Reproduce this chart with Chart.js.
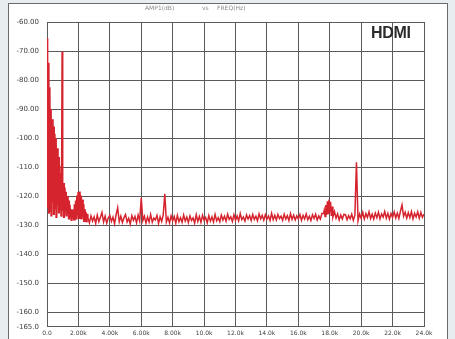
<!DOCTYPE html>
<html>
<head>
<meta charset="utf-8">
<script src="https://cdn.jsdelivr.net/npm/chart.js@4/dist/chart.umd.min.js"></script>
<style>
  html, body { margin: 0; padding: 0; background: #e8edef; }
  #wrap { position: relative; width: 455px; height: 339px; overflow: hidden; }
  #panel {
    position: absolute; left: 8px; top: 3px; width: 440px; height: 345px;
    background: #ffffff; border: 1px solid #6a6a6a; box-sizing: border-box;
  }
  #plot { position: absolute; left: 0; top: 0; }
  .cap { position: absolute; top: 4px; font: 6px "DejaVu Sans", sans-serif; color: #8a8a8a; white-space: nowrap; }
  #tag {
    position: absolute; left: 371px; top: 24px;
    font: bold 16px "Liberation Sans", Arial, sans-serif; color: #2b2b2b; letter-spacing: -0.3px;
  }
</style>
</head>
<body>
<div id="wrap">
  <div id="panel"></div>
  <canvas id="plot" width="455" height="339"></canvas>
  <span class="cap" style="left:145px">AMP1(dB)</span>
  <span class="cap" style="left:202px">vs</span>
  <span class="cap" style="left:217px">FREQ(Hz)</span>
  <div id="tag">HDMI</div>
</div>
<script>
// low band: dense FFT bins, 0 .. 2.56 kHz
const lowFreq = [
  0.00, 0.04, 0.08, 0.12, 0.16, 0.20, 0.24, 0.28, 0.32, 0.36,
  0.40, 0.44, 0.48, 0.52, 0.56, 0.60, 0.64, 0.68, 0.72, 0.76,
  0.80, 0.84, 0.88, 0.92, 0.96, 1.00, 1.04, 1.08, 1.12, 1.16,
  1.20, 1.24, 1.28, 1.32, 1.36, 1.40, 1.44, 1.48, 1.52, 1.56,
  1.60, 1.64, 1.68, 1.72, 1.76, 1.80, 1.84, 1.88, 1.92, 1.96,
  2.00, 2.04, 2.08, 2.12, 2.16, 2.20, 2.24, 2.28, 2.32, 2.36,
  2.40, 2.44, 2.48, 2.52, 2.56
];
const lowLevel = [
  -65.6, -124.0, -74.0, -126.0, -82.5, -125.0, -90.0, -127.0, -93.5, -122.0,
  -96.0, -126.5, -98.5, -124.0, -100.0, -127.5, -103.5, -123.0, -106.5, -126.0,
  -109.5, -124.5, -112.0, -127.0, -70.2, -125.0, -115.5, -127.5, -117.0, -124.0,
  -118.5, -127.0, -120.0, -126.0, -121.5, -128.0, -123.0, -126.5, -124.5, -128.5,
  -124.8, -127.5, -124.5, -128.0, -122.8, -127.0, -121.5, -128.0, -119.8, -126.5,
  -118.6, -127.5, -118.4, -126.0, -119.8, -128.0, -121.2, -126.5, -122.8, -128.5,
  -124.5, -127.0, -125.6, -129.0, -126.2
];

// noise floor and spurs, 2.6 .. 24 kHz
const highFreq = [
  2.6, 2.7, 2.8, 2.9,
  3.0, 3.1, 3.2, 3.3, 3.4, 3.5, 3.6, 3.7, 3.8, 3.9,
  4.0, 4.1, 4.2, 4.3, 4.4, 4.5, 4.6, 4.7, 4.8, 4.9,
  5.0, 5.1, 5.2, 5.3, 5.4, 5.5, 5.6, 5.7, 5.8, 5.9,
  6.0, 6.1, 6.2, 6.3, 6.4, 6.5, 6.6, 6.7, 6.8, 6.9,
  7.0, 7.1, 7.2, 7.3, 7.4, 7.5, 7.6, 7.7, 7.8, 7.9,
  8.0, 8.1, 8.2, 8.3, 8.4, 8.5, 8.6, 8.7, 8.8, 8.9,
  9.0, 9.1, 9.2, 9.3, 9.4, 9.5, 9.6, 9.7, 9.8, 9.9,
  10.0, 10.1, 10.2, 10.3, 10.4, 10.5, 10.6, 10.7, 10.8, 10.9,
  11.0, 11.1, 11.2, 11.3, 11.4, 11.5, 11.6, 11.7, 11.8, 11.9,
  12.0, 12.1, 12.2, 12.3, 12.4, 12.5, 12.6, 12.7, 12.8, 12.9,
  13.0, 13.1, 13.2, 13.3, 13.4, 13.5, 13.6, 13.7, 13.8, 13.9,
  14.0, 14.1, 14.2, 14.3, 14.4, 14.5, 14.6, 14.7, 14.8, 14.9,
  15.0, 15.1, 15.2, 15.3, 15.4, 15.5, 15.6, 15.7, 15.8, 15.9,
  16.0, 16.1, 16.2, 16.3, 16.4, 16.5, 16.6, 16.7, 16.8, 16.9,
  17.0, 17.1, 17.2, 17.3, 17.4, 17.5, 17.6, 17.65, 17.7, 17.75,
  17.8, 17.85, 17.9, 17.95, 18.0, 18.05, 18.1, 18.15, 18.2, 18.3,
  18.4, 18.5, 18.6, 18.7, 18.8, 18.9,
  19.0, 19.1, 19.2, 19.3, 19.4, 19.5, 19.6, 19.7, 19.8, 19.9,
  20.0, 20.1, 20.2, 20.3, 20.4, 20.5, 20.6, 20.7, 20.8, 20.9,
  21.0, 21.1, 21.2, 21.3, 21.4, 21.5, 21.6, 21.7, 21.8, 21.9,
  22.0, 22.1, 22.2, 22.3, 22.4, 22.5, 22.6, 22.7, 22.8, 22.9,
  23.0, 23.1, 23.2, 23.3, 23.4, 23.5, 23.6, 23.7, 23.8, 23.9,
  24.0
];
const highLevel = [
  -127.4, -129.2, -126.8, -128.6,
  -127.1, -129.4, -126.5, -128.8, -127.3, -125.6, -128.9, -126.9, -129.3, -127.5,
  -126.6, -128.7, -127.2, -129.5, -126.4, -124.0, -128.8, -126.9, -129.1, -127.4,
  -126.3, -128.9, -127.6, -129.6, -126.7, -128.3, -127.0, -129.2, -126.5, -128.6,
  -120.6, -128.4, -126.9, -129.3, -127.2, -128.9, -126.3, -129.0, -127.5, -128.2,
  -126.6, -129.4, -127.1, -128.7, -126.4, -119.2, -128.9, -127.3, -129.2, -126.8,
  -128.5, -127.0, -129.3, -126.6, -128.8, -127.4, -129.0, -126.5, -128.6, -127.2,
  -129.1, -126.8, -128.4, -127.5, -129.3, -126.4, -128.7, -127.0, -129.0, -126.6,
  -128.3, -127.3, -129.2, -126.7, -128.6, -127.1, -128.9, -126.3, -128.5, -127.4,
  -128.8, -126.5, -128.2, -126.9, -128.6, -126.2, -128.0, -127.1, -128.7, -126.4,
  -128.3, -126.8, -128.5, -126.0, -128.1, -127.2, -128.6, -126.5, -127.9, -126.7,
  -128.4, -126.3, -128.0, -126.9, -128.5, -126.1, -127.8, -126.6, -128.3, -126.4,
  -127.9, -126.8, -128.4, -125.9, -128.1, -126.6, -128.2, -126.3, -127.7, -126.9,
  -128.3, -126.2, -127.9, -126.7, -128.4, -126.0, -128.0, -126.5, -128.2, -126.8,
  -127.8, -126.3, -128.3, -126.6, -127.9, -126.1, -128.1, -126.9, -128.4, -126.4,
  -127.7, -126.2, -128.2, -126.8, -127.9, -126.0, -126.0, -124.8, -127.0, -123.0,
  -126.5, -121.8, -126.0, -121.2, -125.5, -121.9, -126.8, -123.6, -127.2, -125.3,
  -127.6, -126.1, -128.2, -126.5, -127.9, -126.3,
  -126.4, -128.1, -126.7, -127.8, -126.2, -128.3, -126.6, -108.3, -128.5, -126.1,
  -127.6, -125.6, -127.9, -126.0, -127.3, -125.4, -127.7, -126.2, -127.9, -125.8,
  -127.4, -125.5, -127.8, -126.1, -127.2, -125.3, -127.6, -125.9, -127.9, -126.0,
  -127.3, -125.4, -127.5, -125.8, -127.7, -125.2, -123.0, -126.9, -125.5, -127.6,
  -125.7, -127.4, -125.3, -127.8, -125.9, -127.2, -125.4, -127.6, -125.6, -127.3,
  -126.2
];

const xTicks = [0, 2, 4, 6, 8, 10, 12, 14, 16, 18, 20, 22, 24];
const xTickLabels = ["0.0", "2.00k", "4.00k", "6.00k", "8.00k", "10.0k", "12.0k",
                     "14.0k", "16.0k", "18.0k", "20.0k", "22.0k", "24.0k"];
const yTicks = [-165, -160, -150, -140, -130, -120, -110, -100, -90, -80, -70, -60];
const yTickLabels = ["-165.0", "-160.0", "-150.0", "-140.0", "-130.0", "-120.0",
                     "-110.0", "-100.0", "-90.00", "-80.00", "-70.00", "-60.00"];

const points = lowFreq.map((f, i) => ({ x: f, y: lowLevel[i] }))
  .concat(highFreq.map((f, i) => ({ x: f, y: highLevel[i] })));

const gridColor = "#5a5a5a";

new Chart(document.getElementById("plot"), {
  type: "line",
  data: {
    datasets: [{
      data: points,
      borderColor: "#d6242f",
      borderWidth: 1.5,
      pointRadius: 0,
      tension: 0,
      fill: false,
      // the low-frequency bins sit very close together, so a wider pen closes the gaps
      segment: {
        borderWidth: ctx => (ctx.p1.parsed.x <= 2.56 && ctx.p1.parsed.y < -75 && ctx.p0.parsed.y < -75) ? 2.2 : undefined
      }
    }]
  },
  options: {
    responsive: false,
    animation: false,
    layout: { padding: { left: 0, top: 22, right: 31, bottom: 0 } },
    plugins: {
      legend: { display: false },
      tooltip: { enabled: false }
    },
    scales: {
      x: {
        type: "linear",
        min: 0,
        max: 24,
        afterFit: axis => { axis.height = 12; },
        afterBuildTicks: axis => { axis.ticks = xTicks.map(v => ({ value: v })); },
        grid: { color: gridColor, lineWidth: 1, drawTicks: false },
        border: { color: gridColor, width: 1 },
        ticks: {
          padding: 3,
          color: "#404040",
          font: { family: "DejaVu Sans", size: 6 },
          maxRotation: 0,
          autoSkip: false,
          callback: (v, i) => xTickLabels[i]
        }
      },
      y: {
        type: "linear",
        min: -165,
        max: -60,
        afterFit: axis => { axis.width = 47; },
        afterBuildTicks: axis => { axis.ticks = yTicks.map(v => ({ value: v })); },
        grid: { color: gridColor, lineWidth: 1, drawTicks: false },
        border: { color: gridColor, width: 1 },
        ticks: {
          padding: 8,
          color: "#404040",
          font: { family: "DejaVu Sans", size: 7 },
          autoSkip: false,
          callback: (v, i) => yTickLabels[i]
        }
      }
    }
  }
});
</script>
</body>
</html>
